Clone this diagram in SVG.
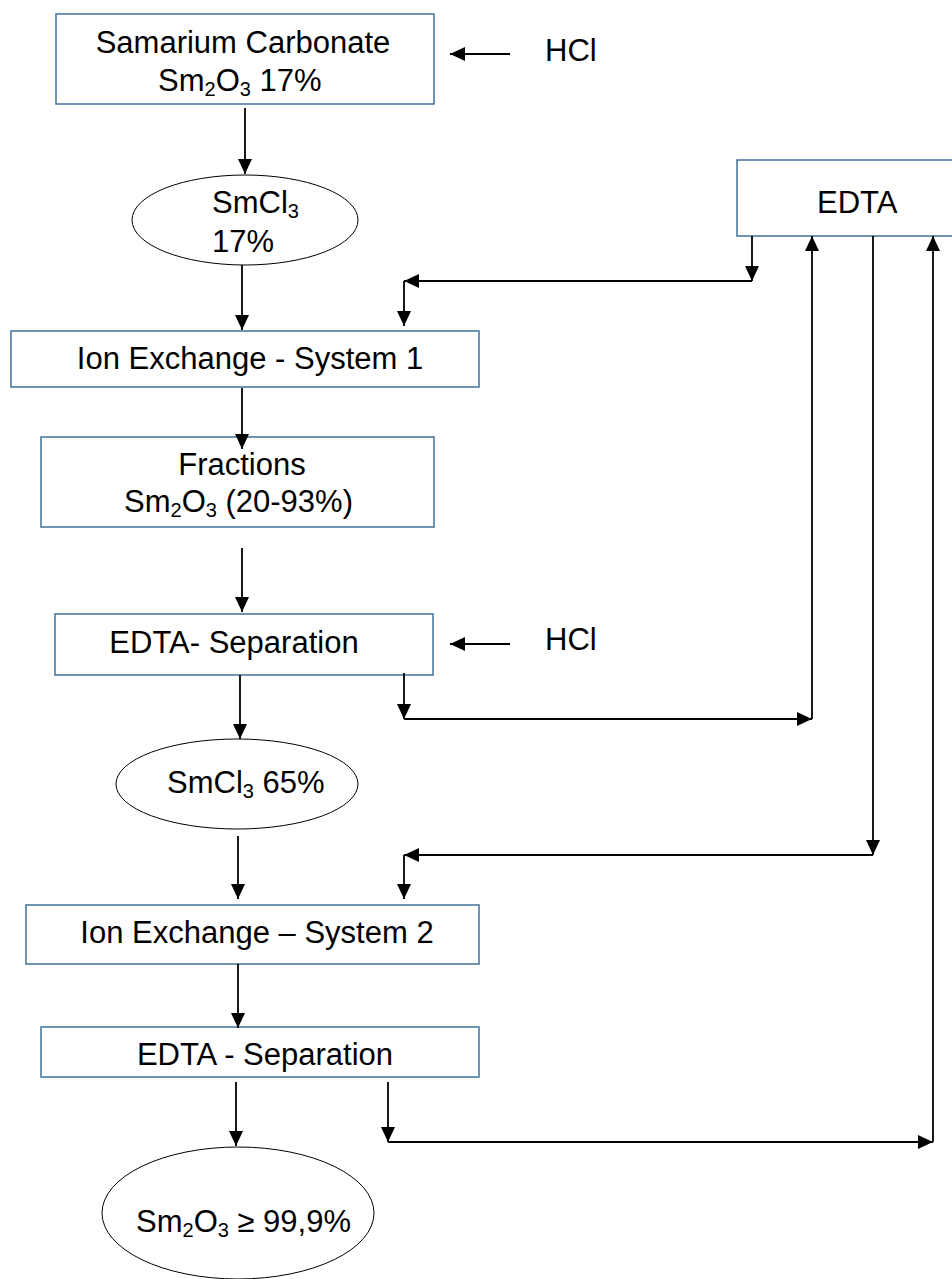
<svg xmlns="http://www.w3.org/2000/svg" width="952" height="1279" viewBox="0 0 952 1279">
<style>
.box{fill:#fff;stroke:#41719c;stroke-width:1.5}
.ell{fill:#fff;stroke:#000;stroke-width:1}
.t{font-family:"Liberation Sans",Arial,sans-serif;font-size:31px;fill:#000}
.c{stroke:#000;stroke-width:1.8;fill:none}
.a{marker-end:url(#ah)}
</style>
<defs>
<marker id="ah" markerUnits="userSpaceOnUse" markerWidth="16" markerHeight="14" refX="15" refY="7" orient="auto">
<path d="M0,0 L15,7 L0,14 Z" fill="#000"/>
</marker>
</defs>
<rect width="952" height="1279" fill="#fff"/>
<g id="samarium-carbonate">
<rect class="box" x="56" y="14" width="378" height="90"/>
<text class="t" x="243" y="53" text-anchor="middle">Samarium Carbonate</text>
<text class="t" x="158" y="91">Sm<tspan font-size="20" dy="5">2</tspan><tspan dy="-5">O</tspan><tspan font-size="20" dy="5">3</tspan><tspan dy="-5"> 17%</tspan></text>
</g>
<g id="hcl-1">
<text class="t" x="545" y="61">HCl</text>
</g>
<g id="smcl3-17">
<ellipse class="ell" cx="245" cy="220" rx="113" ry="45"/>
<text class="t" x="212" y="213">SmCl<tspan font-size="20" dy="5">3</tspan></text>
<text class="t" x="212" y="252">17%</text>
</g>
<g id="edta">
<rect class="box" x="737" y="160" width="222" height="76"/>
<text class="t" x="817" y="213">EDTA</text>
</g>
<g id="ion-exchange-1">
<rect class="box" x="11" y="331" width="468" height="56"/>
<text class="t" x="250" y="369" text-anchor="middle">Ion Exchange - System 1</text>
</g>
<g id="fractions">
<rect class="box" x="41" y="437" width="393" height="90"/>
<text class="t" x="242" y="475" text-anchor="middle">Fractions</text>
<text class="t" x="124" y="512">Sm<tspan font-size="20" dy="5">2</tspan><tspan dy="-5">O</tspan><tspan font-size="20" dy="5">3</tspan><tspan dy="-5"> (20-93%)</tspan></text>
</g>
<g id="edta-separation-1">
<rect class="box" x="55" y="614" width="378" height="61"/>
<text class="t" x="234" y="653" text-anchor="middle">EDTA- Separation</text>
</g>
<g id="hcl-2">
<text class="t" x="545" y="650">HCl</text>
</g>
<g id="smcl3-65">
<ellipse class="ell" cx="237" cy="784" rx="121" ry="45"/>
<text class="t" x="167" y="793">SmCl<tspan font-size="20" dy="5">3</tspan><tspan dy="-5"> 65%</tspan></text>
</g>
<g id="ion-exchange-2">
<rect class="box" x="26" y="905" width="453" height="59"/>
<text class="t" x="257" y="943" text-anchor="middle">Ion Exchange – System 2</text>
</g>
<g id="edta-separation-2">
<rect class="box" x="41" y="1027" width="438" height="50"/>
<text class="t" x="265" y="1065" text-anchor="middle">EDTA - Separation</text>
</g>
<g id="sm2o3-999">
<ellipse class="ell" cx="238" cy="1213" rx="136" ry="66"/>
<text class="t" x="136" y="1232">Sm<tspan font-size="20" dy="5">2</tspan><tspan dy="-5">O</tspan><tspan font-size="20" dy="5">3</tspan><tspan dy="-5"> ≥ 99,9%</tspan></text>
</g>
<g id="connectors">
<line class="c a" x1="510" y1="54" x2="450" y2="54"/>
<line class="c a" x1="245" y1="108" x2="245" y2="174"/>
<line class="c a" x1="242" y1="265" x2="242" y2="330"/>
<line class="c a" x1="752" y1="236" x2="752" y2="281"/>
<line class="c a" x1="752" y1="281" x2="404" y2="281"/>
<line class="c a" x1="404" y1="281" x2="404" y2="326"/>
<line class="c a" x1="242" y1="388" x2="242" y2="449"/>
<line class="c a" x1="242" y1="548" x2="242" y2="612"/>
<line class="c a" x1="510" y1="644" x2="450" y2="644"/>
<line class="c a" x1="240" y1="675" x2="240" y2="739"/>
<line class="c a" x1="404" y1="673" x2="404" y2="719"/>
<line class="c a" x1="404" y1="719" x2="812" y2="719"/>
<line class="c a" x1="812" y1="719" x2="812" y2="236"/>
<line class="c a" x1="873" y1="236" x2="873" y2="855"/>
<line class="c a" x1="873" y1="855" x2="404" y2="855"/>
<line class="c a" x1="404" y1="855" x2="404" y2="899"/>
<line class="c a" x1="238" y1="836" x2="238" y2="899"/>
<line class="c a" x1="238" y1="964" x2="238" y2="1028"/>
<line class="c a" x1="236" y1="1082" x2="236" y2="1146"/>
<line class="c a" x1="388" y1="1082" x2="388" y2="1142"/>
<line class="c a" x1="388" y1="1142" x2="933" y2="1142"/>
<line class="c a" x1="933" y1="1142" x2="933" y2="236"/>
</g>
</svg>
